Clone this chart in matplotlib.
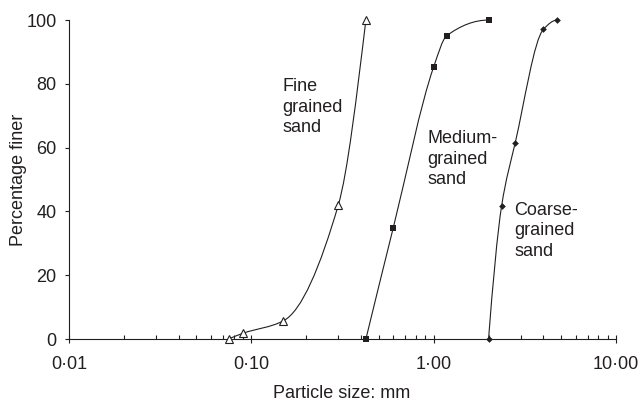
import numpy as np
import matplotlib
matplotlib.use("Agg")
import matplotlib.pyplot as plt
from matplotlib.path import Path
from matplotlib.patches import PathPatch

# sieve sizes (mm) and percentage finer for each sand
fine_size = [0.075, 0.090, 0.150, 0.300, 0.425]
fine_pct = [0.0, 1.8, 5.7, 42.0, 100.0]

medium_size = [0.425, 0.600, 1.00, 1.18, 2.00]
medium_pct = [0.0, 34.8, 85.3, 95.1, 100.0]

coarse_size = [2.00, 2.36, 2.80, 4.00, 4.75]
coarse_pct = [0.0, 41.8, 61.5, 97.1, 100.0]

x_ticks = [0.01, 0.1, 1.0, 10.0]
x_ticklabels = ["0\u00b701", "0\u00b710", "1\u00b700", "10\u00b700"]
y_ticks = [0, 20, 40, 60, 80, 100]

ink = "#231f20"
plt.rcParams["font.family"] = ["Liberation Sans", "DejaVu Sans"]
plt.rcParams["font.size"] = 13


def smooth_path(xs, ys):
	# monotone cubic (Fritsch-Carlson) through the points in log-x space, as bezier segments
	lx = np.log10(np.array(xs, dtype=float))
	y = np.array(ys, dtype=float)
	h = np.diff(lx)
	d = np.diff(y) / h
	n = len(lx)
	m = np.zeros(n)
	for k in range(1, n - 1):
		if d[k - 1] * d[k] > 0:
			w1 = 2 * h[k] + h[k - 1]
			w2 = h[k] + 2 * h[k - 1]
			m[k] = (w1 + w2) / (w1 / d[k - 1] + w2 / d[k])
	# end slopes
	m[0] = ((2 * h[0] + h[1]) * d[0] - h[0] * d[1]) / (h[0] + h[1])
	if np.sign(m[0]) != np.sign(d[0]):
		m[0] = 0
	elif abs(m[0]) > 3 * abs(d[0]):
		m[0] = 3 * d[0]
	m[-1] = ((2 * h[-1] + h[-2]) * d[-1] - h[-1] * d[-2]) / (h[-1] + h[-2])
	if np.sign(m[-1]) != np.sign(d[-1]):
		m[-1] = 0
	elif abs(m[-1]) > 3 * abs(d[-1]):
		m[-1] = 3 * d[-1]

	verts = [(xs[0], ys[0])]
	codes = [Path.MOVETO]
	for i in range(n - 1):
		c1 = (10 ** (lx[i] + h[i] / 3), y[i] + m[i] * h[i] / 3)
		c2 = (10 ** (lx[i + 1] - h[i] / 3), y[i + 1] - m[i + 1] * h[i] / 3)
		verts += [c1, c2, (xs[i + 1], ys[i + 1])]
		codes += [Path.CURVE4] * 3
	return Path(verts, codes)


fig = plt.figure(figsize=(6.41, 4.01), dpi=100)
ax = fig.add_axes([0.1076, 0.1546, 0.8534, 0.7954])
ax.set_xscale("log")

series = [
	(fine_size, fine_pct, dict(marker="^", markersize=5.5, markerfacecolor="white", markeredgewidth=0.8)),
	(medium_size, medium_pct, dict(marker="s", markersize=4.5, markerfacecolor=ink, markeredgewidth=0)),
	(coarse_size, coarse_pct, dict(marker="D", markersize=3.4, markerfacecolor=ink, markeredgewidth=0)),
]
for xs, ys, style in series:
	ax.add_patch(PathPatch(smooth_path(xs, ys), fill=False, edgecolor=ink, linewidth=0.8, clip_on=False))
	ax.plot(xs, ys, linestyle="none", color=ink, clip_on=False, zorder=3, **style)

ax.set_xlim(0.01, 10)
ax.set_ylim(0, 100)

ax.set_xticks(x_ticks)
ax.set_xticklabels(x_ticklabels)
ax.set_yticks(y_ticks)

ax.tick_params(axis="x", which="major", direction="inout", length=6, width=0.8, pad=9.5, colors=ink)
ax.tick_params(axis="x", which="minor", direction="in", length=3, width=0.8, colors=ink)
ax.tick_params(axis="y", direction="out", length=3, width=0.8, pad=6, colors=ink)

for side in ["top", "right"]:
	ax.spines[side].set_visible(False)
for side in ["left", "bottom"]:
	ax.spines[side].set_linewidth(0.8)
	ax.spines[side].set_color(ink)

ax.set_xlabel("Particle size: mm", color=ink)
ax.set_ylabel("Percentage finer", color=ink)
ax.xaxis.set_label_coords(0.4976, -0.1436)
ax.yaxis.set_label_coords(-0.0775, 0.5)

ax.text(0.1475, 81.7, "Fine\ngrained\nsand", ha="left", va="top", linespacing=1.27, color=ink)
ax.text(0.923, 65.5, "Medium-\ngrained\nsand", ha="left", va="top", linespacing=1.27, color=ink)
ax.text(2.76, 43.1, "Coarse-\ngrained\nsand", ha="left", va="top", linespacing=1.27, color=ink)

fig.savefig("out.png", dpi=100)
